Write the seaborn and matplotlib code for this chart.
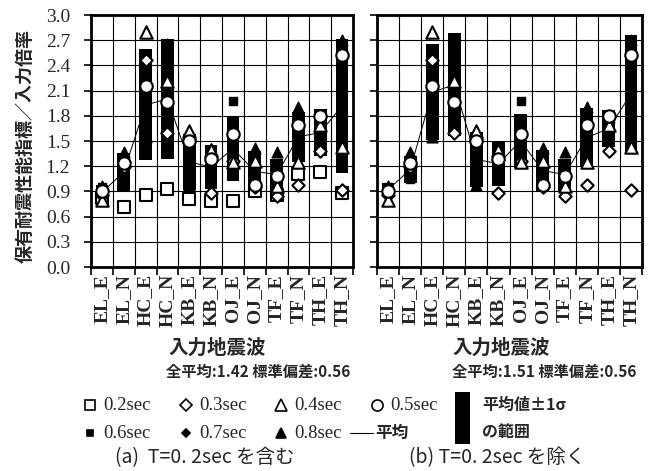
import numpy as np
import matplotlib
matplotlib.use("Agg")
import matplotlib.pyplot as plt
import seaborn as sns
from matplotlib.lines import Line2D
from matplotlib.patches import Rectangle

# ---------------- data ----------------
categories = ["EL_E", "EL_N", "HC_E", "HC_N", "KB_E", "KB_N",
              "OJ_E", "OJ_N", "TF_E", "TF_N", "TH_E", "TH_N"]

periods = ["0.2sec", "0.3sec", "0.4sec", "0.5sec", "0.6sec", "0.7sec", "0.8sec"]
v02 = [0.82, 0.72, 0.86, 0.93, 0.81, 0.78, 0.78, 0.90, 0.86, 1.11, 1.13, 0.88]
v03 = [0.86, 1.19, 2.46, 1.60, 1.52, 0.88, 1.26, 0.95, 0.84, 0.98, 1.38, 0.92]
v04 = [0.80, 1.27, 2.80, 2.22, 1.62, 1.39, 1.25, 1.26, 0.96, 1.25, 1.69, 1.43]
v05 = [0.90, 1.24, 2.15, 1.96, 1.50, 1.28, 1.58, 0.98, 1.08, 1.69, 1.80, 2.52]
v06 = [0.95, 1.05, 1.90, 2.50, 1.20, 1.15, 1.98, 1.10, 1.15, 1.75, 1.72, 2.20]
v07 = [0.93, 1.10, 1.75, 2.45, 1.10, 1.20, 1.40, 1.20, 1.20, 1.80, 1.60, 2.60]
v08 = [0.96, 1.37, 1.55, 2.65, 0.98, 1.40, 1.30, 1.42, 1.37, 1.90, 1.78, 2.70]

# (a) including T=0.2sec : mean and standard deviation per wave
mean_a = [0.89, 1.13, 1.93, 2.00, 1.25, 1.19, 1.41, 1.14, 1.10, 1.55, 1.60, 1.92]
sd_a = [0.09, 0.23, 0.66, 0.71, 0.33, 0.26, 0.39, 0.24, 0.19, 0.30, 0.28, 0.80]
# (b) excluding T=0.2sec
mean_b = [0.92, 1.16, 2.08, 2.17, 1.28, 1.23, 1.50, 1.15, 1.10, 1.54, 1.65, 2.06]
sd_b = [0.08, 0.16, 0.57, 0.61, 0.33, 0.26, 0.32, 0.24, 0.19, 0.35, 0.22, 0.70]

stats_a = "全平均:1.42 標準偏差:0.56"
stats_b = "全平均:1.51 標準偏差:0.56"
yticks = [0.0, 0.3, 0.6, 0.9, 1.2, 1.5, 1.8, 2.1, 2.4, 2.7, 3.0]

# ---------------- style ----------------
sns.set_theme(style="white")
plt.rcParams["font.family"] = ["Noto Sans CJK JP", "DejaVu Sans"]
SERIF = ["Liberation Serif", "DejaVu Serif"]
JP = ["Noto Sans CJK JP", "DejaVu Sans"]

W, H = 653, 471
fig = plt.figure(figsize=(W / 100, H / 100), dpi=100)


def fx(px):
    return px / W


def fy(py):
    return 1 - py / H


ax_a = fig.add_axes([fx(91), fy(267), fx(353) - fx(91), fy(15) - fy(267)])
ax_b = fig.add_axes([fx(377), fy(267), fx(642) - fx(377), fy(15) - fy(267)])

# marker specs: (name, values, marker, size)
open_specs = [
    ("0.2sec", v02, "s", 75),
    ("0.3sec", v03, "D", 40),
    ("0.4sec", v04, "^", 80),
    ("0.5sec", v05, "o", 80),
]
filled_specs = [
    ("0.6sec", v06, "s", 30),
    ("0.7sec", v07, "D", 24),
    ("0.8sec", v08, "^", 60),
]

idx = np.arange(len(categories))


def draw_panel(ax, mean, sd, include02, show_ylabels):
    mean = np.asarray(mean)
    sd = np.asarray(sd)
    sns.lineplot(x=idx, y=mean, color="black", lw=0.7, ax=ax, zorder=1.5)
    ax.bar(idx, 2 * sd, bottom=mean - sd, width=0.58, color="black",
           zorder=2, linewidth=0)
    for name, vals, mk, s in filled_specs:
        sns.scatterplot(x=idx, y=vals, marker=mk, s=s, color="black",
                        edgecolor="black", linewidth=1.0, ax=ax, zorder=3)
    for name, vals, mk, s in open_specs:
        if name == "0.2sec" and not include02:
            continue
        sns.scatterplot(x=idx, y=vals, marker=mk, s=s, color="white",
                        edgecolor="black", linewidth=1.5, ax=ax, zorder=4)

    ax.set_xlim(-0.5, len(categories) - 0.5)
    ax.set_ylim(0, 3.0)
    ax.set_yticks(yticks)
    if show_ylabels:
        ax.set_yticklabels([f"{t:.1f}" for t in yticks], family=SERIF,
                           fontsize=14)
    else:
        ax.set_yticklabels([])
    ax.set_xticks(idx)
    ax.set_xticklabels(categories, rotation=90, family=SERIF, fontsize=14,
                       fontweight="bold")
    ax.set_xticks(np.arange(-0.5, len(categories), 1.0), minor=True)
    ax.tick_params(axis="x", which="major", length=0, pad=5)
    ax.tick_params(axis="x", which="minor", length=6, width=1.2,
                   direction="out", color="black", bottom=True)
    ax.tick_params(axis="y", which="major", length=5, width=1.2,
                   direction="out", color="black", left=True, pad=10)
    ax.grid(False)
    ax.yaxis.grid(True, which="major", color="black", lw=0.8, zorder=0)
    ax.xaxis.grid(True, which="minor", color="black", lw=0.8, zorder=0)
    ax.set_axisbelow(True)
    for sp in ax.spines.values():
        sp.set_color("black")
        sp.set_linewidth(2.0)
    ax.set_xlabel("")
    ax.set_ylabel("")


draw_panel(ax_a, mean_a, sd_a, True, True)
draw_panel(ax_b, mean_b, sd_b, False, False)

# ---------------- texts ----------------
fig.text(fx(25), fy(146), "保有耐震性能指標／入力倍率", rotation=90,
         ha="center", va="center", fontsize=13, fontweight="bold", family=JP)
fig.text(fx(217), fy(348), "入力地震波", ha="center", va="center",
         fontsize=14, fontweight="bold", family=JP)
fig.text(fx(501), fy(348), "入力地震波", ha="center", va="center",
         fontsize=14, fontweight="bold", family=JP)
fig.text(fx(350), fy(372), stats_a, ha="right", va="center",
         fontsize=11, fontweight="bold", family=JP)
fig.text(fx(636), fy(372), stats_b, ha="right", va="center",
         fontsize=11, fontweight="bold", family=JP)

# ---------------- legend (placed by hand) ----------------
leg_items = [
    # label, marker, filled, markersize, x_marker, y
    ("0.2sec", "s", False, 7.5, 90, 405),
    ("0.3sec", "D", False, 6.0, 186, 405),
    ("0.4sec", "^", False, 8.5, 281, 405),
    ("0.5sec", "o", False, 8.0, 377, 405),
    ("0.6sec", "s", True, 4.5, 90, 433),
    ("0.7sec", "D", True, 4.5, 186, 433),
    ("0.8sec", "^", True, 7.0, 281, 433),
]
for lab, mk, filled, ms, xm, yy in leg_items:
    fig.add_artist(Line2D([fx(xm)], [fy(yy)], transform=fig.transFigure,
                          linestyle="none", marker=mk, markersize=ms,
                          markerfacecolor="black" if filled else "white",
                          markeredgecolor="black", markeredgewidth=1.2))
    fig.text(fx(xm + 13), fy(yy), lab, ha="left", va="center",
             family=SERIF, fontsize=13.5)

fig.add_artist(Line2D([fx(350), fx(373)], [fy(433), fy(433)],
                      transform=fig.transFigure, color="black", lw=0.8))
fig.text(fx(375), fy(433), "平均", ha="left", va="center",
         fontsize=12, fontweight="bold", family=JP)

fig.patches.append(Rectangle((fx(455), fy(444)), fx(470) - fx(455),
                             fy(392) - fy(444), transform=fig.transFigure,
                             facecolor="black", edgecolor="none"))
fig.text(fx(482), fy(405), "平均値±1σ", ha="left", va="center",
         fontsize=11.5, fontweight="bold", family=JP)
fig.text(fx(482), fy(432), "の範囲", ha="left", va="center",
         fontsize=11.5, fontweight="bold", family=JP)

fig.text(fx(205), fy(458), "(a)  T=0. 2sec を含む", ha="center", va="center",
         fontsize=14, family=JP)
fig.text(fx(497), fy(458), "(b) T=0. 2sec を除く", ha="center", va="center",
         fontsize=14, family=JP)

fig.savefig("out.png", dpi=100, facecolor="white")
